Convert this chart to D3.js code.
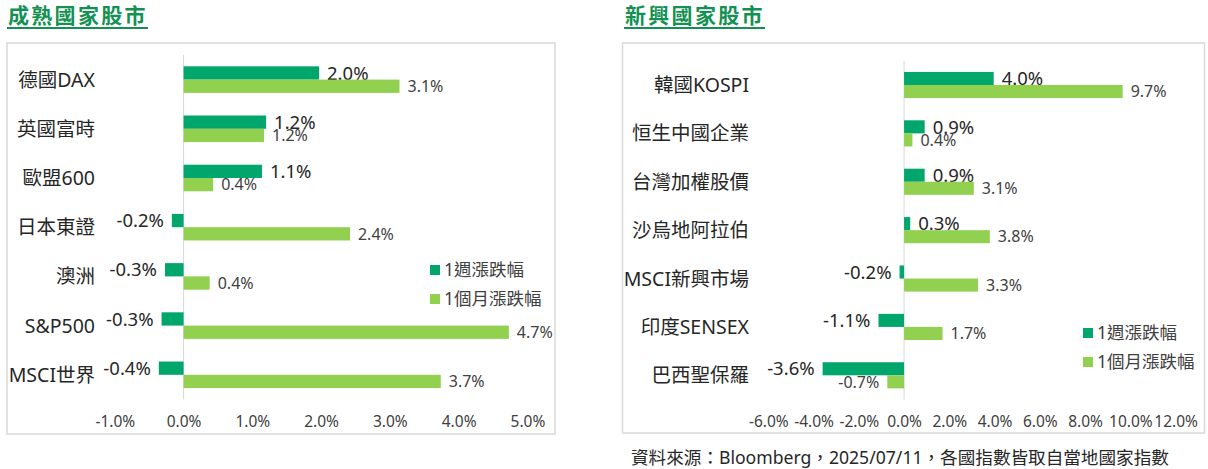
<!DOCTYPE html>
<html>
<head>
<meta charset="utf-8">
<script src="https://cdn.jsdelivr.net/npm/d3@7"></script>
<style>
  html, body { margin: 0; padding: 0; background: #ffffff; }
  svg { display: block; }
</style>
</head>
<body>
<div id="chart"></div>
<script>
// --- data ---
const seriesNames = ["1週漲跌幅", "1個月漲跌幅"];

const devCategories = ["德國DAX", "英國富時", "歐盟600", "日本東證", "澳洲", "S&P500", "MSCI世界"];
const devWeek = [1.97, 1.20, 1.14, -0.17, -0.27, -0.32, -0.36];
const devMonth = [3.14, 1.17, 0.43, 2.42, 0.38, 4.73, 3.74];
const devTicks = [-1, 0, 1, 2, 3, 4, 5];

const emCategories = ["韓國KOSPI", "恒生中國企業", "台灣加權股價", "沙烏地阿拉伯", "MSCI新興市場", "印度SENSEX", "巴西聖保羅"];
const emWeek = [3.96, 0.91, 0.91, 0.27, -0.20, -1.13, -3.60];
const emMonth = [9.66, 0.37, 3.08, 3.79, 3.27, 1.70, -0.74];
const emTicks = [-6, -4, -2, 0, 2, 4, 6, 8, 10, 12];

const sourceNote = "資料來源：Bloomberg，2025/07/11，各國指數皆取自當地國家指數";

// --- drawing ---
const W = 1208, H = 469;
const FONT = "'Noto Sans', 'Noto Sans CJK TC', sans-serif";
const C_WEEK = "#00a66c";
const C_MONTH = "#92d050";
const C_TITLE = "#139152";

const svg = d3.select("#chart").append("svg")
    .attr("width", W)
    .attr("height", H)
    .style("font-family", FONT);

function drawPanel(p) {
    const g = svg.append("g");

    // title + underline
    g.append("text")
        .attr("x", p.titleX)
        .attr("y", 23)
        .attr("fill", C_TITLE)
        .attr("font-size", "21px")
        .attr("font-weight", "700")
        .attr("letter-spacing", "2.3px")
        .text(p.title);
    g.append("line")
        .attr("x1", p.titleX - 1).attr("x2", p.titleX + 140)
        .attr("y1", 28).attr("y2", 28)
        .attr("stroke", C_TITLE)
        .attr("stroke-width", 2);

    // frame
    g.append("rect")
        .attr("x", p.box[0]).attr("y", p.box[1])
        .attr("width", p.box[2]).attr("height", p.box[3])
        .attr("fill", "none")
        .attr("stroke", "#d9d9d9")
        .attr("stroke-width", 1.5);

    const x = d3.scaleLinear().domain(p.domain).range(p.xRange);
    const y = d3.scaleBand().domain(p.categories).range(p.yRange)
        .paddingInner(0.46).paddingOuter(0.23);
    const ys = d3.scaleBand().domain(seriesNames).range([0, y.bandwidth()]);

    // zero line
    g.append("line")
        .attr("x1", x(0)).attr("x2", x(0))
        .attr("y1", p.yRange[0]).attr("y2", p.yRange[1])
        .attr("stroke", "#d9d9d9")
        .attr("stroke-width", 1);

    // x axis labels
    const axis = g.append("g")
        .attr("transform", "translate(0,416)")
        .call(d3.axisBottom(x).tickValues(p.ticks).tickSize(0).tickPadding(0)
            .tickFormat(d => d.toFixed(1) + "%"));
    axis.select(".domain").remove();
    axis.selectAll("text")
        .attr("font-family", FONT)
        .attr("font-size", "15.5px")
        .attr("fill", "#404040");

    // category labels
    g.selectAll(".cat")
        .data(p.categories)
        .enter().append("text")
        .attr("class", "cat")
        .attr("x", p.labelX)
        .attr("y", d => y(d) + y.bandwidth() / 2)
        .attr("dy", "0.36em")
        .attr("text-anchor", "end")
        .attr("fill", "#262626")
        .attr("font-size", "19.5px")
        .text(d => d);

    const series = [
        { name: seriesNames[0], values: p.week, color: C_WEEK, size: "18.5px", fill: "#262626" },
        { name: seriesNames[1], values: p.month, color: C_MONTH, size: "16px", fill: "#404040" }
    ];

    series.forEach(s => {
        const rows = p.categories.map((c, i) => ({ c, v: s.values[i] }));
        g.selectAll(null)
            .data(rows)
            .enter().append("rect")
            .attr("x", d => x(Math.min(0, d.v)))
            .attr("y", d => y(d.c) + ys(s.name))
            .attr("width", d => Math.abs(x(d.v) - x(0)))
            .attr("height", ys.bandwidth())
            .attr("fill", s.color);

        g.selectAll(null)
            .data(rows)
            .enter().append("text")
            .attr("x", d => d.v >= 0 ? x(d.v) + 8 : x(d.v) - 8)
            .attr("y", d => y(d.c) + ys(s.name) + ys.bandwidth() / 2)
            .attr("dy", "0.36em")
            .attr("text-anchor", d => d.v >= 0 ? "start" : "end")
            .attr("fill", s.fill)
            .attr("font-size", s.size)
            .text(d => d.v.toFixed(1) + "%");
    });

    // legend
    series.forEach((s, i) => {
        const ly = p.legendY + i * 29;
        g.append("rect")
            .attr("x", p.legendX).attr("y", ly - 5)
            .attr("width", 10).attr("height", 10)
            .attr("fill", s.color);
        g.append("text")
            .attr("x", p.legendX + 14)
            .attr("y", ly)
            .attr("dy", "0.36em")
            .attr("fill", "#404040")
            .attr("font-size", "17.5px")
            .text(s.name);
    });
}

drawPanel({
    title: "成熟國家股市",
    titleX: 8,
    box: [7, 43, 548, 391],
    categories: devCategories,
    week: devWeek,
    month: devMonth,
    ticks: devTicks,
    domain: [-1, 5],
    xRange: [114.8, 527.4],
    yRange: [55, 399.4],
    labelX: 95,
    legendX: 430,
    legendY: 270
});

drawPanel({
    title: "新興國家股市",
    titleX: 625,
    box: [622.5, 43, 582, 390],
    categories: emCategories,
    week: emWeek,
    month: emMonth,
    ticks: emTicks,
    domain: [-6, 12],
    xRange: [768.3, 1175.6],
    yRange: [60.8, 399.5],
    labelX: 749,
    legendX: 1083,
    legendY: 333
});

svg.append("text")
    .attr("x", 631)
    .attr("y", 464)
    .attr("fill", "#262626")
    .attr("font-size", "17.6px")
    .text(sourceNote);
</script>
</body>
</html>
